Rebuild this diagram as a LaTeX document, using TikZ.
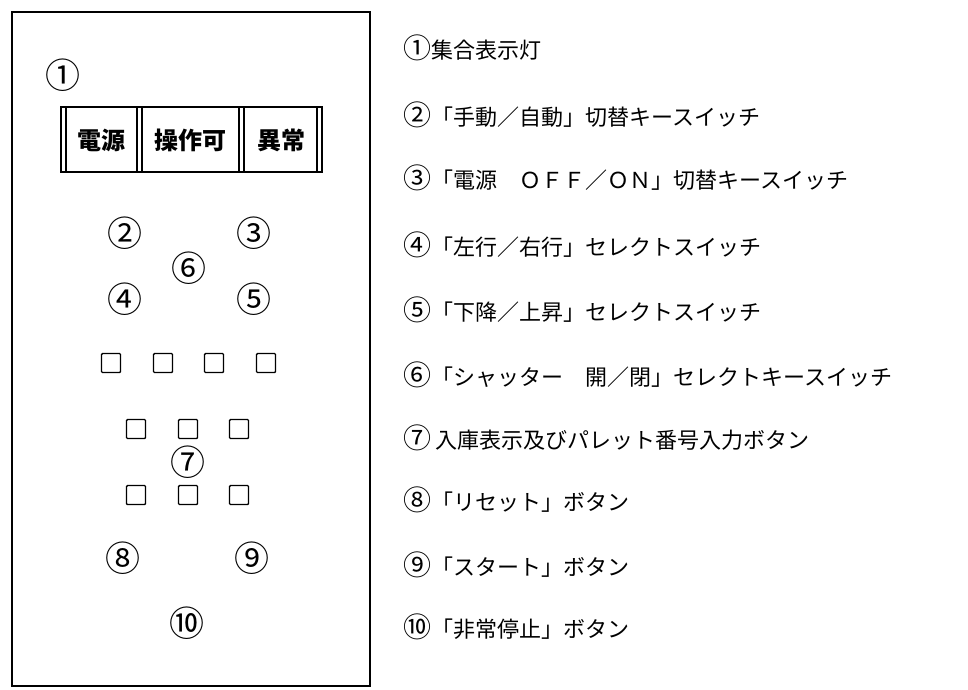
\documentclass[tikz,border=0pt]{standalone}
\usepackage{fontspec}
\setmainfont{Noto Sans CJK JP}
\newcommand{\cnum}[1]{{\fontsize{28}{28}\selectfont #1}}
\begin{document}
\begin{tikzpicture}[x=1pt,y=-1pt,
  panelnum/.style={font=\fontsize{35}{35}\selectfont, inner sep=0pt},
  lamptext/.style={font=\fontsize{24}{24}\selectfont\bfseries, inner sep=0pt},
  desc/.style={font=\fontsize{22}{22}\selectfont, inner sep=0pt, anchor=west},
  btn/.style={draw, line width=1.4pt, minimum width=19pt, minimum height=19pt, inner sep=0pt, rounded corners=1pt},
  frame/.style={draw, line width=1.8pt},
  lampline/.style={draw, line width=1.1pt}]
\useasboundingbox (0,0) rectangle (968,689);
% panel frame
\draw[frame] (12,12) rectangle (370,686);
% lamp box
\draw[lampline] (61,107) rectangle (322,172);
\draw[lampline] (66,107) -- (66,172);
\draw[lampline] (137,107) -- (137,172);
\draw[lampline] (142,107) -- (142,172);
\draw[lampline] (239,107) -- (239,172);
\draw[lampline] (244,107) -- (244,172);
\draw[lampline] (317,107) -- (317,172);
\node[lamptext] (l1) at (101,140) {電源};
\node[lamptext] (l2) at (190,140) {操作可};
\node[lamptext] (l3) at (281,140) {異常};
% numbers on panel
\node[panelnum] (p1) at (63,75) {①};
\node[panelnum] (p2) at (125,233) {②};
\node[panelnum] (p3) at (254,233) {③};
\node[panelnum] (p6) at (189,268) {⑥};
\node[panelnum] (p4) at (125,299) {④};
\node[panelnum] (p5) at (254,299) {⑤};
\node[panelnum] (p7) at (188,462) {⑦};
\node[panelnum] (p8) at (123,558) {⑧};
\node[panelnum] (p9) at (252,558) {⑨};
\node[panelnum] (p10) at (187,623) {⑩};
% buttons
\node[btn] (b1) at (111,363) {};
\node[btn] (b2) at (163,363) {};
\node[btn] (b3) at (214,363) {};
\node[btn] (b4) at (266,363) {};
\node[btn] (b5) at (136,429) {};
\node[btn] (b6) at (188,429) {};
\node[btn] (b7) at (239,429) {};
\node[btn] (b8) at (136,495) {};
\node[btn] (b9) at (188,495) {};
\node[btn] (b10) at (239,495) {};
% descriptions
\node[desc] (d1) at (403,48) {\cnum{①}集合表示灯};
\node[desc] (d2) at (403,115) {\cnum{②}「手動／自動」切替キースイッチ};
\node[desc] (d3) at (403,178) {\cnum{③}「電源　ＯＦＦ／ＯＮ」切替キースイッチ};
\node[desc] (d4) at (403,245) {\cnum{④}「左行／右行」セレクトスイッチ};
\node[desc] (d5) at (403,310) {\cnum{⑤}「下降／上昇」セレクトスイッチ};
\node[desc] (d6) at (403,375) {\cnum{⑥}「シャッター　開／閉」セレクトキースイッチ};
\node[desc] (d7) at (403,438) {\cnum{⑦}\hspace{4pt}入庫表示及びパレット番号入力ボタン};
\node[desc] (d8) at (403,500) {\cnum{⑧}「リセット」ボタン};
\node[desc] (d9) at (403,565) {\cnum{⑨}「スタート」ボタン};
\node[desc] (d10) at (403,627) {\cnum{⑩}「非常停止」ボタン};
\end{tikzpicture}
\end{document}
